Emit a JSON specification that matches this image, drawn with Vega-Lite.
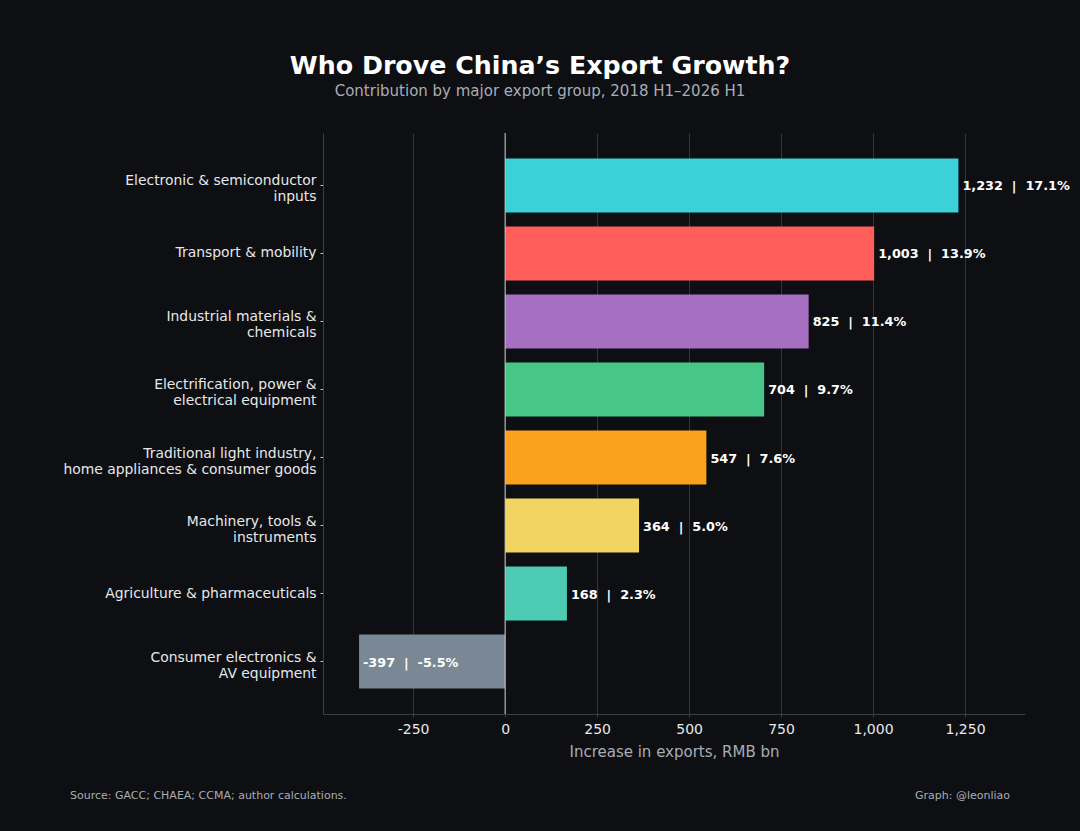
{
  "$schema": "https://vega.github.io/schema/vega-lite/v6.json",
  "background": "#0d0f13",
  "width": 702,
  "height": 581,
  "autosize": "none",
  "padding": {"left": 323, "top": 133, "right": 55, "bottom": 117},
  "title": {
    "text": "Who Drove China’s Export Growth?",
    "subtitle": "Contribution by major export group, 2018 H1–2026 H1",
    "anchor": "middle",
    "dx": -134,
    "offset": 34,
    "font": "DejaVu Sans",
    "fontSize": 25.3,
    "fontWeight": "bold",
    "color": "#ffffff",
    "subtitleFont": "DejaVu Sans",
    "subtitleFontSize": 15,
    "subtitleColor": "#a9adb3",
    "subtitlePadding": 4
  },
  "config": {
    "view": {"stroke": null},
    "font": "DejaVu Sans"
  },
  "data": {
    "values": [
      {"group": "Electronic & semiconductor\ninputs", "value": 1232, "share": 17.1},
      {"group": "Transport & mobility", "value": 1003, "share": 13.9},
      {"group": "Industrial materials &\nchemicals", "value": 825, "share": 11.4},
      {"group": "Electrification, power &\nelectrical equipment", "value": 704, "share": 9.7},
      {"group": "Traditional light industry,\nhome appliances & consumer goods", "value": 547, "share": 7.6},
      {"group": "Machinery, tools &\ninstruments", "value": 364, "share": 5.0},
      {"group": "Agriculture & pharmaceuticals", "value": 168, "share": 2.3},
      {"group": "Consumer electronics &\nAV equipment", "value": -397, "share": -5.5}
    ]
  },
  "encoding": {
    "y": {
      "field": "group",
      "type": "nominal",
      "sort": null,
      "scale": {"paddingInner": 0.206, "paddingOuter": 0.375},
      "axis": {
        "title": null,
        "labelExpr": "split(datum.label, '\\n')",
        "labelOffset": {"expr": "indexof(datum.label, '\\n') >= 0 ? -4 : 0"},
        "labelFont": "DejaVu Sans",
        "labelFontSize": 13.9,
        "labelColor": "#e8e8e8",
        "labelLimit": 400,
        "labelPadding": 4,
        "labelLineHeight": 16,
        "tickSize": 3,
        "tickColor": "#cccccc",
        "domainColor": "#3a3d42",
        "grid": false
      }
    },
    "x": {
      "field": "value",
      "type": "quantitative",
      "scale": {"domain": [-495, 1413], "nice": false, "zero": false},
      "axis": {
        "title": "Increase in exports, RMB bn",
        "values": [-250, 0, 250, 500, 750, 1000, 1250],
        "labelExpr": "(datum.value < 0 ? '-' : '') + format(abs(datum.value), ',d')",
        "labelFont": "DejaVu Sans",
        "labelFontSize": 14,
        "labelColor": "#e8e8e8",
        "labelPadding": 5,
        "tickSize": 3,
        "tickColor": "#3a3d42",
        "domainColor": "#3a3d42",
        "grid": true,
        "gridColor": "#32353a",
        "gridWidth": 1,
        "titleFont": "DejaVu Sans",
        "titleFontSize": 15,
        "titleFontWeight": "normal",
        "titleColor": "#a9adb3",
        "titlePadding": 8
      }
    }
  },
  "layer": [
    {
      "mark": {"type": "bar"},
      "encoding": {
        "color": {
          "field": "group",
          "type": "nominal",
          "legend": null,
          "scale": {
            "domain": [
              "Electronic & semiconductor\ninputs",
              "Transport & mobility",
              "Industrial materials &\nchemicals",
              "Electrification, power &\nelectrical equipment",
              "Traditional light industry,\nhome appliances & consumer goods",
              "Machinery, tools &\ninstruments",
              "Agriculture & pharmaceuticals",
              "Consumer electronics &\nAV equipment"
            ],
            "range": ["#3bd1d9", "#ff5e5b", "#a66fc2", "#48c687", "#fca11d", "#f2d462", "#4ecbb3", "#7a8794"]
          }
        }
      }
    },
    {
      "data": {"values": [{"v": 0}]},
      "mark": {"type": "rule", "color": "#c8c8c8", "strokeWidth": 1},
      "encoding": {
        "x": {"field": "v", "type": "quantitative"},
        "y": null
      }
    },
    {
      "transform": [
        {"calculate": "(datum.value < 0 ? '-' : '') + format(abs(datum.value), ',d') + ' \u00a0|\u00a0 ' + (datum.share < 0 ? '-' : '') + format(abs(datum.share), '.1f') + '%'", "as": "label"}
      ],
      "mark": {
        "type": "text",
        "align": "left",
        "baseline": "middle",
        "dx": 4,
        "dy": 1,
        "font": "DejaVu Sans",
        "fontSize": 12.8,
        "fontWeight": "bold",
        "color": "#ffffff"
      },
      "encoding": {
        "text": {"field": "label"}
      }
    },
    {
      "data": {"values": [{"note": "Source: GACC; CHAEA; CCMA; author calculations."}]},
      "mark": {
        "type": "text",
        "align": "left",
        "baseline": "middle",
        "font": "DejaVu Sans",
        "fontSize": 11,
        "color": "#a9adb3",
        "x": -253,
        "y": 663
      },
      "encoding": {
        "text": {"field": "note"},
        "x": null,
        "y": null
      }
    },
    {
      "data": {"values": [{"note": "Graph: @leonliao"}]},
      "mark": {
        "type": "text",
        "align": "right",
        "baseline": "middle",
        "font": "DejaVu Sans",
        "fontSize": 11,
        "color": "#a9adb3",
        "x": 687,
        "y": 663
      },
      "encoding": {
        "text": {"field": "note"},
        "x": null,
        "y": null
      }
    }
  ]
}
